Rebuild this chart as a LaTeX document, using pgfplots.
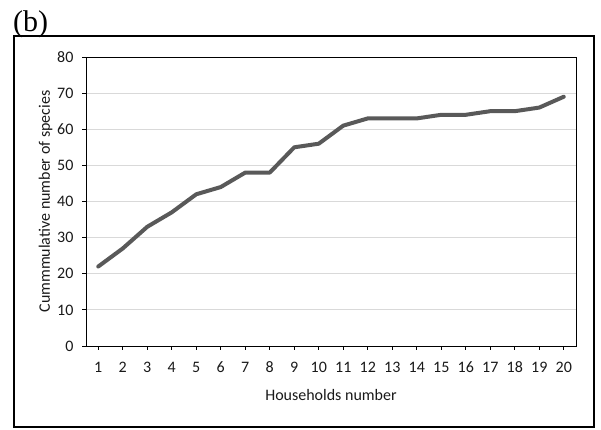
\documentclass[border=0pt]{standalone}
\usepackage{pgfplots}
\pgfplotsset{compat=1.18}
\usepackage{fontspec}
\setmainfont{Carlito}
\newfontfamily\timesfont{Liberation Serif}
\definecolor{linegray}{HTML}{595959}
\definecolor{gridgray}{HTML}{D9D9D9}
\begin{document}
\begin{tikzpicture}[x=1pt,y=1pt]
\useasboundingbox (0,0) rectangle (601,430);
\draw[black, line width=1.2pt] (14,3) rectangle (594,394);
\node[anchor=base west, inner sep=0pt, font=\timesfont\fontsize{30}{34}\selectfont] at (13,398) {(b)};
\begin{axis}[
  at={(86pt,84pt)}, anchor=south west,
  scale only axis, width=490pt, height=289pt,
  xmin=0.5, xmax=20.5, ymin=0, ymax=80,
  xtick={1,...,20}, ytick={0,10,...,80},
  tick align=outside, major tick length=4pt,
  xtick pos=bottom, ytick pos=left,
  axis line style={black, line width=0.9pt},
  tick style={black, line width=0.8pt},
  ymajorgrids, grid style={gridgray, line width=0.9pt},
  ticklabel style={font=\fontsize{16}{19}\selectfont, text=black!90},
  label style={font=\fontsize{16}{19}\selectfont, text=black!90},
  /pgf/number format/assume math mode=true,
  xticklabel style={text height=11pt, text depth=0pt, yshift=-8pt},
  yticklabel style={xshift=-5pt},
  xlabel={Households number},
  ylabel={Cummmulative number of species},
  xlabel style={yshift=-10pt},
  ylabel style={yshift=-2pt},
]
\addplot[linegray, line width=4pt, line join=round, line cap=round] coordinates {
(1,22) (2,27) (3,33) (4,37) (5,42) (6,44) (7,48) (8,48) (9,55) (10,56)
(11,61) (12,63) (13,63) (14,63) (15,64) (16,64) (17,65) (18,65) (19,66) (20,69)
};
\end{axis}
\end{tikzpicture}
\end{document}
